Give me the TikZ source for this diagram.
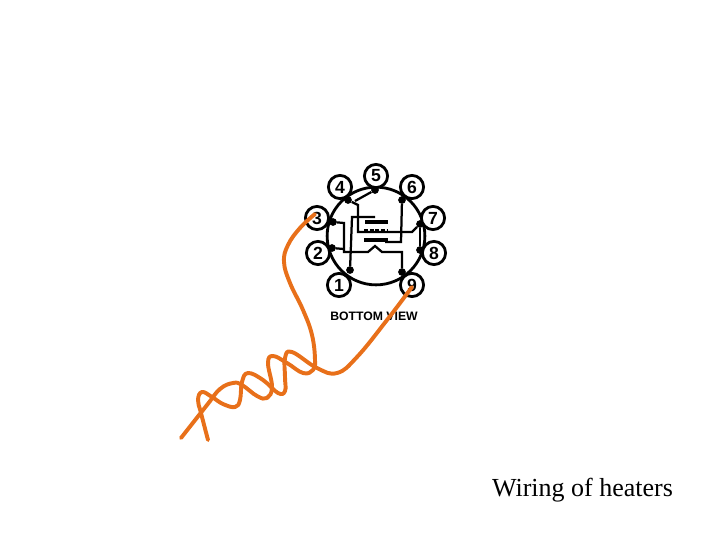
\documentclass[tikz,border=0pt]{standalone}
\usepackage{fontspec}
\setmainfont{Liberation Serif}
\setsansfont{Liberation Sans}
\usetikzlibrary{calc}

\definecolor{wireorange}{RGB}{232,112,26}

\tikzset{
    pin/.style={circle, draw, line width=2pt, fill=white, minimum size=16.5pt, inner sep=0pt, font=\sffamily\bfseries\fontsize{12.5}{12}\selectfont},
    lead/.style={line width=1.6pt},
    wire/.style={line width=2.8pt, draw=wireorange, line cap=round, line join=round},
    contact/.style={circle, fill=black, minimum size=5.5pt, inner sep=0pt}
}

\begin{document}
\begin{tikzpicture}[x=.025cm, y=-.025cm]
            \useasboundingbox (0,0) rectangle (720,540);

            \node [circle, draw, line width=2pt, minimum size=69.5pt] (base) at (376,236) {};

            % lead-in dots
            \node [contact] (D1) at (350,270) {};
            \node [contact] (D2) at (332,248) {};
            \node [contact] (D3) at (333,222) {};
            \node [contact] (D4) at (348,200) {};
            \node [contact] (D5) at (375,190) {};
            \node [contact] (D6) at (402,200) {};
            \node [contact] (D7) at (420,224) {};
            \node [contact] (D8) at (420,250) {};
            \node [contact] (D9) at (402,272) {};

            \foreach \n/\x/\y in {1/339/285, 2/318/253, 3/317/218, 4/340/187, 5/376/176, 6/412/187, 7/433/218, 8/434/253, 9/412/285}
                {
                    \node [pin] (P\n) at (\x,\y) {\n};
                }

            \draw [lead] (D4) -- (358,205) -- (358,232) -- (412,232) -- (D7);
            \draw [lead] (D5) -- (355,201);
            \draw [lead] (D6) -- (401,242) -- (385,242);
            \draw [lead] (D3) -- (344,223) -- (344,252) -- (368,252) -- (375,246) -- (382,252) -- (402,252) -- (D9);
            \draw [lead] (D2) -- (344,249);
            \draw [lead] (D1) -- (352,217) -- (375,217);
            \draw [lead] (D7) -- (D8);

            % electrodes
            \draw [line width=2.6pt] (365,222) -- (388,222);
            \draw [line width=2.6pt, dash pattern=on 3pt off 1pt] (364,231) -- (388,231);
            \draw [line width=2.6pt] (364,240) -- (388,240);

            \node [font=\sffamily\bfseries\fontsize{8.7}{10}\selectfont] (caption) at (374,316) {BOTTOM VIEW};
            \node [font=\fontsize{18.5}{20}\selectfont] (title) at (582.5,490) {Wiring of heaters};

            \coordinate (end3) at (315,214);
            \coordinate (end9) at (412,287);
            \coordinate (freeA) at (181,438);
            \coordinate (freeB) at (208,440);

            \draw [wire] plot [smooth, tension=.7] coordinates {(end3) (300,228) (288,245) (284,262) (290,283) (303,310) (312,335) (315,360) (313,370) (303,373) (287,363) (273,356) (268,363) (272,387) (267,398) (257,396) (242,385) (233,383) (220,389) (207,405) (freeA)};
            \draw [wire] plot [smooth, tension=.7] coordinates {(end9) (387,320) (357,357) (337,373) (317,368) (292,352) (285,358) (285,377) (285,391) (278,393) (263,380) (248,373) (242,382) (240,400) (235,407) (223,404) (212,397) (202,392) (198,400) (201,413) (freeB)};
        \end{tikzpicture}
\end{document}
